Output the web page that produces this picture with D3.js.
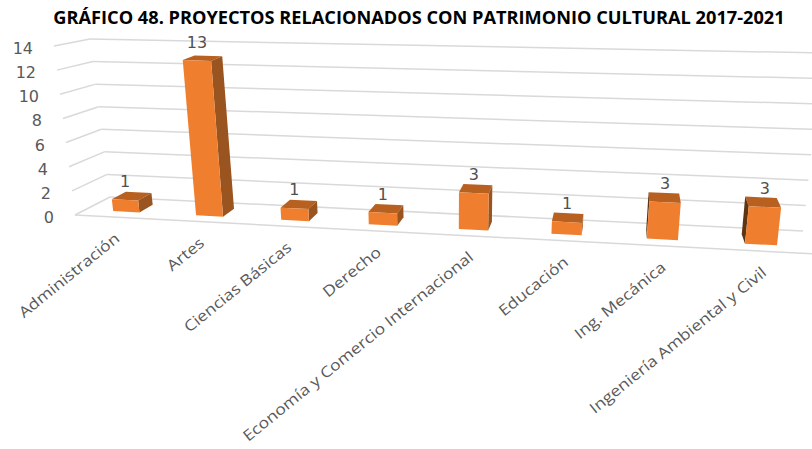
<!DOCTYPE html>
<html>
<head>
<meta charset="utf-8">
<script src="https://d3js.org/d3.v7.min.js"></script>
<style>
body { margin: 0; background: #fff; }
svg { display: block; }
</style>
</head>
<body>
<svg id="graph"></svg>
<script>
var categories = ["Administración", "Artes", "Ciencias Básicas", "Derecho", "Economía y Comercio Internacional", "Educación", "Ing. Mecánica", "Ingeniería Ambiental y Civil"];
var values = [1, 13, 1, 1, 3, 1, 3, 3];
var yTicks = [0, 2, 4, 6, 8, 10, 12, 14];
var title = "GRÁFICO 48. PROYECTOS RELACIONADOS CON PATRIMONIO CULTURAL 2017-2021";

var screen = {width: 812, height: 449};

var svg = d3.select("#graph")
    .attr("width", screen.width)
    .attr("height", screen.height);

// the chart box as the picture shows it: floor and top corners, front and back
var box = {
    frontLeft:  {x0: 75,  y0: 215, x1: 54,  y1: 46},
    frontRight: {x0: 815, y0: 254, x1: 837, y1: 79},
    backLeft:   {x0: 110, y0: 197, x1: 90,  y1: 39},
    backRight:  {x0: 803, y0: 231, x1: 822, y1: 53}
};
var vanish = 0.12;

var xScale = d3.scaleBand()
    .domain(categories)
    .range([0, 1])
    .paddingInner(0.68)
    .paddingOuter(0.34);

var yScale = d3.scaleLinear()
    .domain([0, 14])
    .range([0, 1]);

var depthScale = d3.scaleLinear()
    .domain([0, 1])
    .range([0.3, 0.72]);

// perspective, bars get wider to the right
var warp = function (u) {
    return u / (1 + vanish * (1 - u));
};

var edge = function (corner, t, key) {
    return corner[key + "0"] + (corner[key + "1"] - corner[key + "0"]) * t;
};

// u along the categories, d from front to back, v the value
var project = function (u, d, v) {
    var w = warp(u);
    var t = yScale(v);
    var get = function (key) {
        var front = d3.interpolateNumber(edge(box.frontLeft, t, key), edge(box.frontRight, t, key))(w);
        var back = d3.interpolateNumber(edge(box.backLeft, t, key), edge(box.backRight, t, key))(w);
        return d3.interpolateNumber(front, back)(d);
    };
    return [get("x"), get("y")];
};

var drawLine = d3.line();

var drawGrid = function (target) {
    var grid = target.append("g").attr("stroke", "#d9d9d9").attr("stroke-width", 1.5).attr("fill", "none");

    // side wall
    grid.selectAll(".side")
        .data(yTicks)
        .enter()
        .append("path")
        .attr("d", function (tick) {
            return drawLine([project(0, 0, tick), project(0, 1, tick)]);
        });

    // back wall
    grid.selectAll(".back")
        .data(yTicks)
        .enter()
        .append("path")
        .attr("d", function (tick) {
            return drawLine([project(0, 1, tick), project(1, 1, tick)]);
        });

    // front of the floor
    grid.append("path")
        .attr("d", drawLine([project(0, 0, 0), project(1, 0, 0)]));
};

var drawAxis = function (target) {
    target.append("g")
        .selectAll("text")
        .data(yTicks)
        .enter()
        .append("text")
        .text(function (tick) { return tick; })
        .attr("x", function (tick) { return project(0, 0, tick)[0] - 21; })
        .attr("y", function (tick) { return project(0, 0, tick)[1] + 8; })
        .attr("text-anchor", "end")
        .attr("fill", "#595959")
        .style("font-family", "'DejaVu Sans'")
        .style("font-size", "16px");

    // labels are stretched along the text, like the tilted picture
    target.append("g")
        .selectAll("text")
        .data(categories)
        .enter()
        .append("text")
        .text(function (name) { return name; })
        .attr("text-anchor", "end")
        .attr("transform", function (name) {
            var p = project(xScale(name) + xScale.bandwidth() / 2, 0, 0);
            return "translate(" + (p[0] + 4) + "," + (p[1] + 23) + ") rotate(-39) scale(1.18,1)";
        })
        .attr("fill", "#595959")
        .style("font-family", "'Open Sans'")
        .style("font-size", "15px");
};

var drawBars = function (target) {
    var bars = target.selectAll(".bar")
        .data(categories)
        .enter()
        .append("g")
        .attr("class", "bar");

    bars.each(function (name, i) {
        var g = d3.select(this);
        var u0 = xScale(name);
        var u1 = u0 + xScale.bandwidth();
        var d0 = depthScale(0);
        var d1 = depthScale(1);
        var v = values[i];

        var face = function (points, color) {
            g.append("path")
                .attr("d", drawLine(points) + "Z")
                .attr("fill", color);
        };

        // top
        face([project(u0, d0, v), project(u1, d0, v), project(u1, d1, v), project(u0, d1, v)], "#b8601f");
        // right side, only when we can see it
        if (project(u1, d1, v)[0] > project(u1, d0, v)[0]) {
            face([project(u1, d0, v), project(u1, d1, v), project(u1, d1, 0), project(u1, d0, 0)], "#9a5420");
        }
        // left side
        if (project(u0, d1, v)[0] < project(u0, d0, v)[0]) {
            face([project(u0, d0, v), project(u0, d1, v), project(u0, d1, 0), project(u0, d0, 0)], "#5e3413");
        }
        // front
        face([project(u0, d0, v), project(u1, d0, v), project(u1, d0, 0), project(u0, d0, 0)], "#ef7f2f");
    });
};

var drawLabels = function (target) {
    target.append("g")
        .selectAll("text")
        .data(categories)
        .enter()
        .append("text")
        .text(function (name, i) { return values[i]; })
        .attr("x", function (name, i) {
            return project(xScale(name) + xScale.bandwidth() / 2, depthScale(0), values[i])[0];
        })
        .attr("y", function (name, i) {
            return project(xScale(name) + xScale.bandwidth() / 2, depthScale(0), values[i])[1] - 13;
        })
        .attr("text-anchor", "middle")
        .attr("fill", "#505050")
        .style("font-family", "'DejaVu Sans'")
        .style("font-size", "16px");

    target.append("text")
        .text(title)
        .attr("x", 419)
        .attr("y", 24)
        .attr("text-anchor", "middle")
        .attr("fill", "#000")
        .style("font-family", "'Open Sans'")
        .style("font-weight", "bold")
        .style("font-size", "18.2px");
};

drawGrid(svg);
drawBars(svg);
drawAxis(svg);
drawLabels(svg);
</script>
</body>
</html>
